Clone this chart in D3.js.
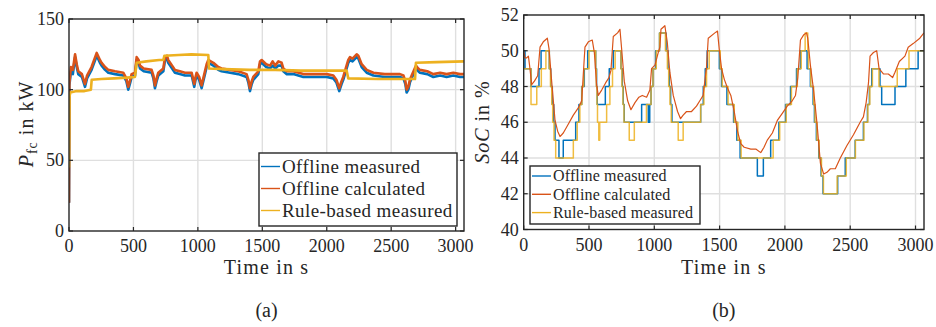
<!DOCTYPE html>
<html>
<head>
<meta charset="utf-8">
<script src="https://cdn.jsdelivr.net/npm/d3@7"></script>
<style>
  body { margin: 0; background: #fff; }
  svg { display: block; }
</style>
</head>
<body>
<svg id="fig" width="936" height="327"></svg>
<script>
// ---- data: (a) fuel cell power in kW ----
const timeTicks = [0, 500, 1000, 1500, 2000, 2500, 3000];
const powerTicks = [0, 50, 100, 150];
const socTicks = [40, 42, 44, 46, 48, 50, 52];
const seriesNames = ["Offline measured", "Offline calculated", "Rule-based measured"];

const powerTime = [0, 3, 15, 30, 47, 60, 72, 100, 124, 140, 175, 215, 240, 253, 280, 305, 357, 421, 445, 460,
  475, 486, 512, 525, 540, 551, 580, 641, 655, 667, 680, 693, 732, 745, 760, 770, 800, 822, 860, 900,
  952, 962, 972, 982, 990, 1010, 1029, 1042, 1055, 1068, 1081, 1100, 1120, 1158, 1184, 1250, 1314, 1378, 1392, 1404,
  1418, 1430, 1469, 1482, 1495, 1530, 1560, 1580, 1600, 1625, 1650, 1663, 1690, 1741, 1818, 1900, 2000, 2051, 2075, 2097,
  2115, 2128, 2167, 2180, 2200, 2232, 2245, 2271, 2310, 2362, 2450, 2568, 2595, 2610, 2620, 2633, 2645, 2659, 2692, 2710,
  2723, 2780, 2827, 2880, 2930, 2982, 3034, 3065];
const powerOfflineCalc = [20, 105, 116, 114, 125, 118, 113, 111, 104, 110, 116, 126, 121, 119, 116, 114, 113, 112, 108, 102,
  107, 111, 112, 123, 121, 117, 115, 114, 110, 103, 108, 112, 115, 123, 124, 121, 117, 114, 113, 112,
  112, 108, 104, 109, 112, 109, 103, 108, 113, 118, 121, 120, 119, 116, 115, 114, 113, 111, 107, 101,
  106, 109, 113, 120, 121, 118, 117, 120, 117, 120, 119, 115, 113, 113, 111, 111, 111, 110, 107, 101,
  106, 109, 121, 123, 122, 125, 124, 118, 114, 112, 111, 111, 110, 106, 100, 102, 107, 110, 117, 115,
  114, 113, 111, 112, 111, 112, 111, 111];
const powerOfflineMeas = [20, 103, 113, 111, 123, 116, 111, 109, 102, 108, 114, 124, 119, 117, 114, 112, 111, 110, 106, 100,
  105, 109, 110, 121, 119, 115, 113, 112, 108, 101, 106, 110, 113, 121, 122, 119, 115, 112, 111, 110,
  110, 106, 102, 107, 110, 107, 101, 106, 111, 116, 119, 118, 117, 114, 113, 112, 111, 109, 105, 99,
  104, 107, 111, 118, 119, 116, 115, 117, 115, 117, 117, 113, 111, 111, 109, 109, 109, 108, 105, 99,
  104, 107, 119, 121, 120, 123, 122, 116, 112, 110, 109, 109, 108, 104, 98, 100, 105, 108, 115, 113,
  112, 111, 109, 110, 109, 110, 109, 109];
const ruleTime = [0, 4, 10, 60, 120, 170, 176, 250, 350, 450, 512, 525, 600, 700, 732, 740, 850, 950, 1081, 1086,
  1200, 1400, 1600, 1800, 2000, 2154, 2167, 2400, 2685, 2692, 2850, 3065];
const powerRuleMeas = [45, 95, 98, 99, 99, 100, 107, 107.5, 108, 108.5, 109, 119, 120, 121, 121, 124, 124.5, 125, 124.5, 115,
  114.5, 114, 114, 113.5, 113.5, 113.5, 108, 107.5, 107.5, 119, 119.5, 120];

// ---- data: (b) state of charge in % ----
// step series: [time in s, SoC in %] at every change
const socOfflineMeas = [[0, 50], [10, 49], [56, 48], [117, 49], [133, 50], [196, 49], [207, 48], [219, 47], [230, 46], [240, 45],
  [270, 44], [303, 45], [398, 46], [423, 47], [444, 48], [464, 49], [490, 50], [551, 49], [558, 48], [563, 47],
  [625, 48], [655, 49], [686, 50], [745, 49], [755, 48], [762, 47], [770, 46], [903, 47], [954, 46], [965, 47],
  [975, 48], [990, 49], [1010, 50], [1040, 51], [1090, 50], [1105, 49], [1115, 48], [1125, 47], [1135, 46], [1355, 47],
  [1375, 48], [1390, 49], [1405, 50], [1498, 49], [1515, 48], [1556, 47], [1607, 46], [1632, 45], [1657, 44], [1789, 43],
  [1835, 44], [1891, 45], [1954, 46], [2005, 47], [2043, 48], [2089, 49], [2119, 50], [2170, 49], [2195, 48], [2216, 47],
  [2226, 46], [2241, 45], [2259, 44], [2277, 43], [2292, 42], [2404, 43], [2462, 44], [2538, 45], [2601, 46], [2632, 47],
  [2647, 48], [2665, 49], [2728, 48], [2741, 47], [2843, 48], [2926, 49], [3020, 50], [3065, 50]];
const socRuleMeas = [[0, 49], [56, 47], [100, 48], [135, 49], [170, 50], [196, 49], [205, 48], [215, 47], [222, 46], [232, 45],
  [245, 44], [380, 45], [410, 46], [430, 47], [446, 48], [460, 49], [500, 50], [551, 49], [556, 48], [561, 47],
  [565, 46], [575, 45], [582, 46], [635, 47], [660, 48], [680, 49], [700, 50], [745, 49], [752, 48], [760, 47],
  [768, 46], [808, 45], [847, 46], [940, 47], [975, 48], [990, 49], [1015, 50], [1040, 51], [1085, 50], [1100, 49],
  [1110, 48], [1120, 47], [1130, 46], [1183, 45], [1221, 46], [1355, 47], [1380, 48], [1400, 49], [1420, 50], [1505, 49],
  [1520, 48], [1565, 47], [1612, 46], [1640, 45], [1665, 44], [1910, 45], [1960, 46], [2010, 47], [2050, 48], [2095, 49],
  [2125, 50], [2155, 51], [2175, 50], [2180, 49], [2198, 48], [2220, 47], [2230, 46], [2245, 45], [2262, 44], [2280, 43],
  [2295, 42], [2400, 43], [2470, 44], [2540, 45], [2605, 46], [2635, 47], [2650, 48], [2670, 49], [2720, 48], [2860, 49],
  [2950, 50], [3065, 50]];
const socCalcTime = [0, 10, 23, 36, 48, 61, 82, 107, 125, 150, 181, 194, 214, 240, 260, 278, 303, 342, 380, 418,
  444, 469, 495, 525, 541, 558, 571, 597, 627, 653, 668, 686, 719, 737, 750, 770, 796, 821, 852, 882,
  908, 941, 966, 979, 1005, 1030, 1043, 1051, 1081, 1099, 1119, 1145, 1178, 1201, 1221, 1247, 1285, 1323, 1357, 1374,
  1400, 1413, 1464, 1484, 1497, 1515, 1536, 1561, 1586, 1612, 1637, 1662, 1688, 1739, 1777, 1815, 1840, 1865, 1904, 1942,
  1980, 2018, 2056, 2081, 2099, 2119, 2145, 2165, 2175, 2195, 2221, 2246, 2272, 2297, 2322, 2348, 2386, 2424, 2475, 2525,
  2576, 2601, 2622, 2640, 2652, 2678, 2703, 2721, 2754, 2792, 2825, 2843, 2876, 2919, 2944, 2982, 3033, 3065];
const socOfflineCalc = [50.0, 49.6, 49.6, 49.7, 49.0, 48.1, 48.3, 48.6, 50.2, 50.5, 50.7, 50.1, 48.3, 46.1, 45.5, 45.2, 45.4, 45.9, 46.4, 46.8,
  47.2, 50.2, 50.5, 50.6, 49.9, 48.1, 47.5, 47.8, 48.2, 48.5, 48.9, 50.8, 51.0, 51.2, 50.1, 48.3, 47.2, 46.7, 47.1, 47.4,
  47.5, 47.4, 47.8, 49.0, 49.2, 49.9, 50.2, 51.2, 51.4, 50.5, 48.8, 47.5, 46.6, 46.2, 46.4, 46.6, 46.6, 46.9, 47.3, 47.5,
  49.1, 50.7, 51.0, 51.1, 50.1, 49.0, 48.4, 47.9, 47.5, 46.6, 45.5, 44.8, 44.6, 44.5, 44.5, 44.3, 44.6, 45.0, 45.4, 46.1,
  46.5, 46.9, 47.2, 47.5, 48.5, 50.6, 50.9, 51.0, 50.7, 49.2, 47.7, 45.9, 43.7, 43.1, 43.2, 43.4, 43.4, 44.0, 44.7, 45.3,
  46.0, 46.3, 47.1, 48.2, 49.7, 49.9, 50.0, 49.0, 48.7, 48.7, 48.5, 48.8, 49.4, 49.7, 50.2, 50.4, 50.7, 51.0];

const colors = ["#0072BD", "#D95319", "#EDB120"];
const ink = "#262626";
const svg = d3.select("#fig");

// every text gets the serif face set inline
function label(parent, size, spacing) {
  return parent.append("text")
    .style("font-family", "'Liberation Serif'")
    .style("font-size", size + "px")
    .style("letter-spacing", (spacing || 0) + "px")
    .attr("fill", ink);
}

function drawPanel(cfg) {
  const g = svg.append("g");
  const x = d3.scaleLinear().domain([0, 3065]).range([cfg.left, cfg.right]);
  const y = d3.scaleLinear().domain(cfg.yDomain).range([cfg.bottom, cfg.top]);

  // grid
  g.append("g").selectAll("line").data(timeTicks.slice(1)).join("line")
    .attr("x1", d => x(d)).attr("x2", d => x(d)).attr("y1", cfg.top).attr("y2", cfg.bottom)
    .attr("stroke", "#dfdfdf").attr("stroke-width", 1.4);
  g.append("g").selectAll("line").data(cfg.yTicks.slice(1, -1)).join("line")
    .attr("x1", cfg.left).attr("x2", cfg.right).attr("y1", d => y(d)).attr("y2", d => y(d))
    .attr("stroke", "#dfdfdf").attr("stroke-width", 1.4);

  // lines
  const clipId = "clip" + cfg.id;
  g.append("clipPath").attr("id", clipId).append("rect")
    .attr("x", cfg.left).attr("y", cfg.top).attr("width", cfg.right - cfg.left).attr("height", cfg.bottom - cfg.top);
  const lines = g.append("g").attr("clip-path", "url(#" + clipId + ")");
  cfg.series.forEach(s => {
    const gen = d3.line().x(d => x(d[0])).y(d => y(d[1]));
    if (s.step) gen.curve(d3.curveStepAfter);
    lines.append("path").datum(s.data)
      .attr("d", gen).attr("fill", "none")
      .attr("stroke", s.color).attr("stroke-width", s.width)
      .attr("stroke-opacity", s.opacity || 1)
      .attr("stroke-linejoin", "round");
  });

  // box and inward ticks
  g.append("rect").attr("x", cfg.left).attr("y", cfg.top)
    .attr("width", cfg.right - cfg.left).attr("height", cfg.bottom - cfg.top)
    .attr("fill", "none").attr("stroke", ink).attr("stroke-width", 1.4);
  const tl = 4;
  timeTicks.forEach(t => {
    g.append("line").attr("x1", x(t)).attr("x2", x(t)).attr("y1", cfg.bottom).attr("y2", cfg.bottom - tl).attr("stroke", ink).attr("stroke-width", 1.2);
    g.append("line").attr("x1", x(t)).attr("x2", x(t)).attr("y1", cfg.top).attr("y2", cfg.top + tl).attr("stroke", ink).attr("stroke-width", 1.2);
  });
  cfg.yTicks.forEach(v => {
    g.append("line").attr("x1", cfg.left).attr("x2", cfg.left + tl).attr("y1", y(v)).attr("y2", y(v)).attr("stroke", ink).attr("stroke-width", 1.2);
    g.append("line").attr("x1", cfg.right).attr("x2", cfg.right - tl).attr("y1", y(v)).attr("y2", y(v)).attr("stroke", ink).attr("stroke-width", 1.2);
  });

  // tick labels
  timeTicks.forEach(t => {
    label(g, 18).attr("x", x(t)).attr("y", cfg.bottom + 21).attr("text-anchor", "middle").text(t);
  });
  cfg.yTicks.forEach(v => {
    label(g, 18).attr("x", cfg.left - 5).attr("y", y(v) + 6).attr("text-anchor", "end").text(v);
  });

  // axis titles
  const mid = (cfg.left + cfg.right) / 2;
  label(g, 20, 1.2).attr("x", mid).attr("y", 274).attr("text-anchor", "middle").text("Time in s");
  label(g, 20).attr("x", mid).attr("y", 317).attr("text-anchor", "middle").text(cfg.caption);
  const yt = label(g, 20, 1)
    .attr("transform", "translate(" + cfg.yTitleX + "," + cfg.yTitleY + ") rotate(-90)")
    .attr("text-anchor", "middle");
  cfg.yTitle(yt);

  // legend
  const L = cfg.legend;
  g.append("rect").attr("x", L.x).attr("y", L.y).attr("width", L.w).attr("height", L.h)
    .attr("fill", "#fff").attr("stroke", ink).attr("stroke-width", 1.4);
  seriesNames.forEach((name, i) => {
    const cy = L.y + L.first + i * L.gap;
    g.append("line").attr("x1", L.x + 2).attr("x2", L.x + 2 + L.line).attr("y1", cy).attr("y2", cy)
      .attr("stroke", colors[i]).attr("stroke-width", 1.4);
    label(g, L.fs, L.ls).attr("x", L.x + 4 + L.line).attr("y", cy + L.fs * 0.33).text(name);
  });
}

drawPanel({
  id: "a", left: 69, right: 464, top: 19, bottom: 231,
  yDomain: [0, 150], yTicks: powerTicks, caption: "(a)",
  yTitleX: 33, yTitleY: 124,
  yTitle: t => {
    t.append("tspan").style("font-style", "italic").text("P");
    t.append("tspan").style("font-size", "14px").attr("dy", 4).text("fc");
    t.append("tspan").attr("dy", -4).text(" in kW");
  },
  series: [
    { data: powerTime.map((t, i) => [t, powerOfflineMeas[i]]), color: colors[0], width: 2.6 },
    { data: powerTime.map((t, i) => [t, powerOfflineCalc[i]]), color: colors[1], width: 2.6 },
    { data: ruleTime.map((t, i) => [t, powerRuleMeas[i]]), color: colors[2], width: 2.6 }
  ],
  legend: { x: 259, y: 153, w: 198, h: 73, first: 13.5, gap: 22, line: 19, fs: 19, ls: 0.4 }
});

drawPanel({
  id: "b", left: 523.7, right: 924, top: 15, bottom: 229.5,
  yDomain: [40, 52], yTicks: socTicks, caption: "(b)",
  yTitleX: 489, yTitleY: 122,
  yTitle: t => {
    t.append("tspan").style("font-style", "italic").text("SoC");
    t.append("tspan").text(" in %");
  },
  series: [
    { data: socOfflineMeas, color: colors[0], width: 1.5, step: true },
    { data: socRuleMeas, color: colors[2], width: 1.5, step: true, opacity: 0.85 },
    { data: socCalcTime.map((t, i) => [t, socOfflineCalc[i]]), color: colors[1], width: 1.2 }
  ],
  legend: { x: 530, y: 166, w: 170, h: 58, first: 10, gap: 18.3, line: 19, fs: 16, ls: 0.15 }
});
</script>
</body>
</html>
